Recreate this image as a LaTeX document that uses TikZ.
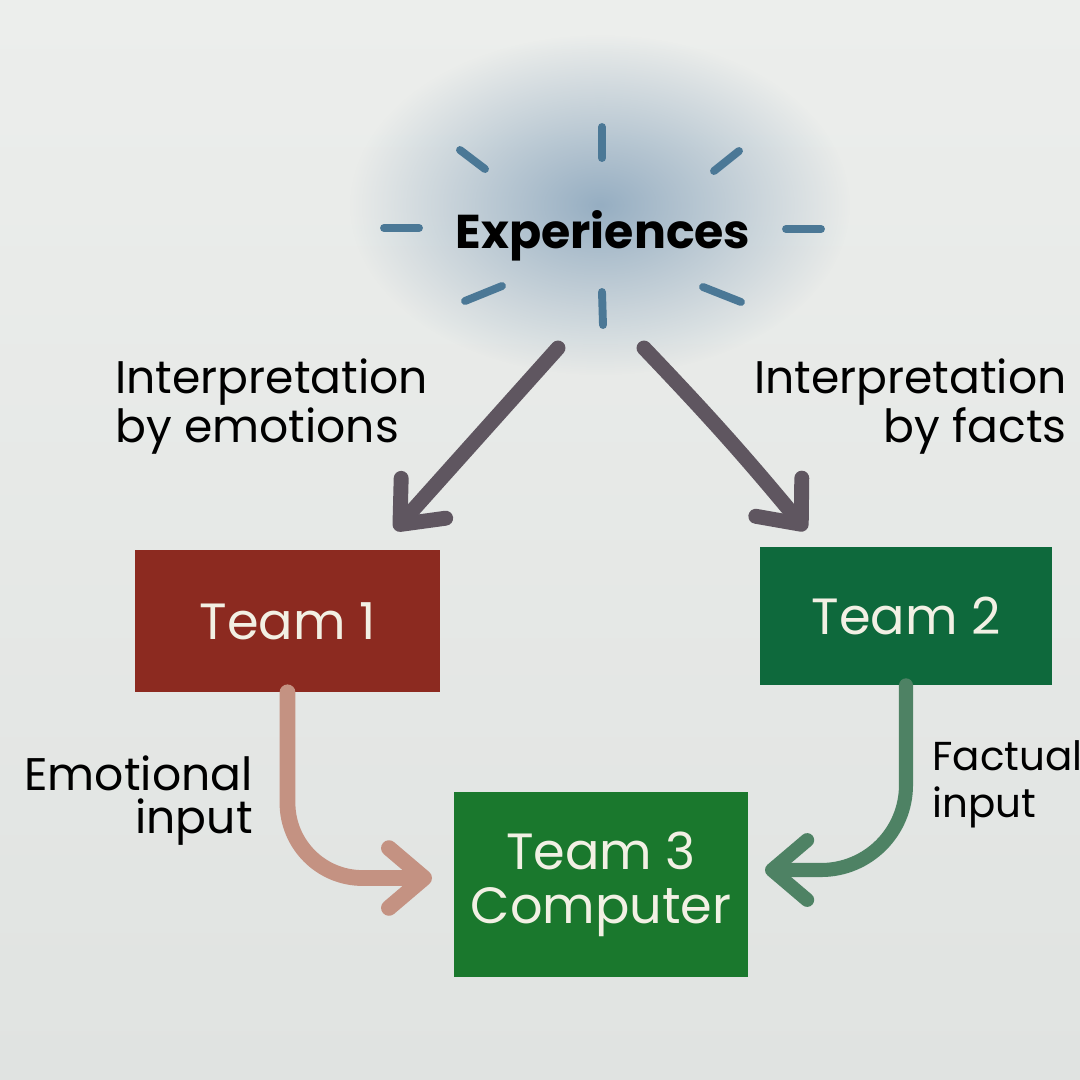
\documentclass[tikz,border=0pt]{standalone}
\usepackage{fontspec}
\setmainfont{Poppins}
\usetikzlibrary{arrows.meta,fadings}
\tikzfading[name=glowfade, inner color=transparent!0, outer color=transparent!100]
\definecolor{bg}{RGB}{224,227,225}
\definecolor{bglight}{RGB}{236,238,236}
\definecolor{glow}{RGB}{150,174,194}
\definecolor{ray}{RGB}{75,120,150}
\definecolor{darrow}{RGB}{95,86,96}
\definecolor{emoarrow}{RGB}{196,146,130}
\definecolor{factarrow}{RGB}{78,130,100}
\definecolor{redbox}{RGB}{140,42,32}
\definecolor{greenbox}{RGB}{14,105,60}
\definecolor{greenbox3}{RGB}{26,120,45}
\definecolor{boxtext}{RGB}{242,240,228}
\tikzset{
  rayline/.style={ray, line width=4.5pt, line cap=round},
  teambox/.style={inner sep=0pt, text=boxtext, font=\fontsize{29}{31}\selectfont, align=center},
  lbl/.style={inner sep=0pt, font=\fontsize{26}{28}\selectfont, text=black},
  lblsmall/.style={inner sep=0pt, font=\fontsize{23}{25}\selectfont, text=black},
  barb/.style={-{Straight Barb[length=20pt, width=34pt, round]}, line cap=round, line join=round},
}
\begin{document}
\begin{tikzpicture}[x=0.02cm, y=-0.02cm]
\shade[top color=bglight, bottom color=bg] (0,0) rectangle (1080,1080);
\useasboundingbox (0,0) rectangle (1080,1080);
% glow
\fill[glow, path fading=glowfade] (600,205) ellipse [x radius=5cm, y radius=3.4cm];
% rays
\draw[rayline] (602,127) -- (602,158);
\draw[rayline] (460,150) -- (485,169);
\draw[rayline] (714,171) -- (739,151);
\draw[rayline] (384,228) -- (419,228);
\draw[rayline] (786,229) -- (821,229);
\draw[rayline] (465,301) -- (502,286);
\draw[rayline] (602,292) -- (603,325);
\draw[rayline] (703,287) -- (741,302);
\node[inner sep=0pt, font=\bfseries\fontsize{27}{29}\selectfont, anchor=base] (exp) at (603,248) {Experiences};
% boxes
\node[teambox, fill=redbox, minimum width=6.1cm, minimum height=2.84cm] (t1) at (287.5,621) {Team 1};
\node[teambox, fill=greenbox, minimum width=5.84cm, minimum height=2.76cm] (t2) at (906,616) {Team 2};
\node[teambox, fill=greenbox3, minimum width=5.88cm, minimum height=3.7cm] (t3) at (601,884.5) {Team 3\\Computer};
% coordinates
\coordinate (ls) at (558,348);
\coordinate (lt) at (395,530);
\coordinate (rs) at (644,348);
\coordinate (rt) at (806,530);
\coordinate (et) at (432,878);
\coordinate (ft) at (765,870);
% arrows
\draw[barb, darrow, line width=8.5pt] (ls) -- (lt);
\draw[barb, darrow, line width=8.5pt] (rs) to[bend left=2] (rt);
\draw[barb, emoarrow, line width=9pt, rounded corners=1.5cm] (t1.south) |- (et);
\draw[barb, factarrow, line width=8pt, rounded corners=1.7cm] (t2.south) |- (ft);
% labels
\node[lbl, anchor=base west] (l1a) at (115,393) {Interpretation};
\node[lbl, anchor=base west] (l1b) at (115,442) {by emotions};
\node[lbl, anchor=base east] (l2a) at (1067,393) {Interpretation};
\node[lbl, anchor=base east] (l2b) at (1067,442) {by facts};
\node[lbl, anchor=base east] (l3a) at (253,790) {Emotional};
\node[lbl, anchor=base east] (l3b) at (253,833) {input};
\node[lblsmall, anchor=base west] (l4a) at (932,770) {Factual};
\node[lblsmall, anchor=base west] (l4b) at (932,817) {input};
\end{tikzpicture}
\end{document}
